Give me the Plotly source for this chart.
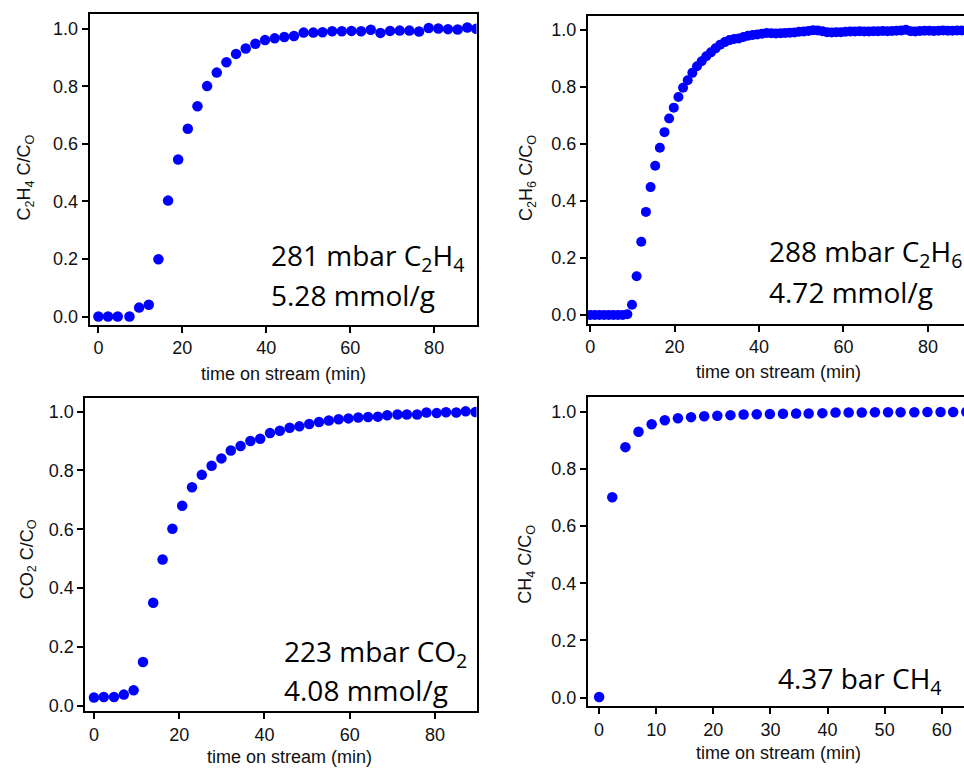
import plotly.graph_objects as go

W, H = 964, 772

# ---------------- data ----------------
t_c2h4 = [0, 2.3, 4.6, 7.4, 9.7, 12.0, 14.3, 16.6, 19.0, 21.3, 23.6, 25.9, 28.2, 30.5, 32.8, 35.1,
          37.4, 39.7, 42.0, 44.3, 46.6, 48.9, 51.2, 53.4, 55.7, 58.0, 60.3, 62.6, 64.9, 67.2, 69.5,
          71.8, 74.1, 76.4, 78.7, 81.0, 83.3, 85.6, 87.9, 90.0]
c_c2h4 = [0.0, 0.0, 0.0, 0.0, 0.031, 0.041, 0.199, 0.403, 0.546, 0.653, 0.731, 0.801, 0.848, 0.884,
          0.913, 0.932, 0.948, 0.961, 0.967, 0.972, 0.975, 0.987, 0.987, 0.988, 0.992, 0.992, 0.993,
          0.992, 0.997, 0.986, 0.993, 0.994, 0.994, 0.991, 1.003, 1.001, 0.999, 0.998, 1.005, 1.0]

t_c2h6 = [0.0, 1.1, 2.2, 3.3, 4.4, 5.5, 6.6, 7.7, 8.8, 9.9, 11.0, 12.1, 13.2, 14.3, 15.4, 16.5,
          17.6, 18.7, 19.8, 20.9, 22.0, 23.1, 24.2, 25.3, 26.4, 27.5, 28.6, 29.7, 30.8, 31.9, 33.0,
          34.1, 35.2, 36.3, 37.4, 38.5, 39.6, 40.7, 41.8, 42.9, 44.0, 45.1, 46.2, 47.3, 48.4, 49.5,
          50.6, 51.7, 52.8, 53.9, 55.0, 56.1, 57.2, 58.3, 59.4, 60.5, 61.6, 62.7, 63.8, 64.9, 66.0,
          67.1, 68.2, 69.3, 70.4, 71.5, 72.6, 73.7, 74.8, 75.9, 77.0, 78.1, 79.2, 80.3, 81.4, 82.5,
          83.6, 84.7, 85.8, 86.9, 88.0, 89.1]
c_c2h6 = [0.0, 0.0, 0.0, 0.0, 0.0, 0.0, 0.0, 0.0,
          0.003, 0.036, 0.136, 0.257, 0.362, 0.449, 0.524, 0.587, 0.642, 0.690,
          0.728, 0.765, 0.798, 0.824, 0.850, 0.873, 0.891, 0.908, 0.922, 0.936,
          0.949, 0.958, 0.965, 0.969, 0.971, 0.976, 0.980, 0.983, 0.985, 0.987,
          0.990, 0.989, 0.988, 0.989, 0.990, 0.991, 0.992, 0.994, 0.995, 0.997,
          1.000, 0.999, 0.996, 0.993, 0.992, 0.993, 0.993, 0.994, 0.995, 0.995,
          0.996, 0.995, 0.995, 0.996, 0.996, 0.997, 0.996, 0.997, 0.998, 0.999,
          1.001, 0.996, 0.995, 0.997, 0.998, 0.998, 0.997, 0.998, 0.999, 0.998,
          0.998, 0.999, 0.999, 0.999]

t_co2 = [0, 2.3, 4.7, 7.0, 9.3, 11.5, 13.9, 16.1, 18.4, 20.7, 23.0, 25.3, 27.6, 29.9, 32.1, 34.4,
         36.7, 39.0, 41.3, 43.6, 45.9, 48.2, 50.5, 52.8, 55.1, 57.4, 59.7, 62.0, 64.3, 66.6, 68.8,
         71.2, 73.4, 75.8, 78.0, 80.4, 82.6, 85.0, 87.2, 89.5]
c_co2 = [0.028, 0.030, 0.030, 0.038, 0.053, 0.149, 0.350, 0.497, 0.602, 0.680, 0.743, 0.785, 0.816,
         0.841, 0.868, 0.883, 0.900, 0.908, 0.927, 0.935, 0.945, 0.950, 0.958, 0.965, 0.970, 0.974,
         0.977, 0.980, 0.982, 0.983, 0.988, 0.990, 0.990, 0.990, 0.997, 0.995, 0.998, 0.997, 1.001,
         0.999]

t_ch4 = [0, 2.3, 4.6, 6.9, 9.2, 11.5, 13.8, 16.1, 18.4, 20.7, 23.0, 25.3, 27.6, 29.9, 32.2, 34.5,
         36.7, 39.1, 41.4, 43.7, 46.0, 48.3, 50.6, 52.8, 55.2, 57.5, 59.8, 62.0, 64.3]
c_ch4 = [0.002, 0.701, 0.876, 0.930, 0.956, 0.970, 0.977, 0.981, 0.984, 0.986, 0.988, 0.990, 0.991,
         0.992, 0.993, 0.994, 0.994, 0.995, 0.997, 0.997, 0.997, 0.998, 0.998, 0.998, 0.998, 0.999,
         0.999, 0.999, 0.999]

y_titles = ["C<sub>2</sub>H<sub>4</sub> C/C<sub>O</sub>", "C<sub>2</sub>H<sub>6</sub> C/C<sub>O</sub>",
            "CO<sub>2</sub> C/C<sub>O</sub>", "CH<sub>4</sub> C/C<sub>O</sub>"]
x_title = "time on stream (min)"
labels = [["281 mbar C<sub>2</sub>H<sub>4</sub>", "5.28 mmol/g"],
          ["288 mbar C<sub>2</sub>H<sub>6</sub>", "4.72 mmol/g"],
          ["223 mbar CO<sub>2</sub>", "4.08 mmol/g"],
          ["4.37 bar CH<sub>4</sub>"]]
y_ticks = [0.0, 0.2, 0.4, 0.6, 0.8, 1.0]

# ---------------- layout helpers (pixel geometry) ----------------
def px_x(p):
    return p / W

def px_y(p):
    return 1 - p / H

panels = [
    dict(t=t_c2h4, c=c_c2h4, xd=[87, 475], yd=[14, 327], xr=[-2.07, 90.1], yr=[-0.029, 1.052],
         dtick=20, right=True, msize=10.5),
    dict(t=t_c2h6, c=c_c2h6, xd=[586.7, 964], yd=[15.7, 325.7], xr=[-0.55, 88.55], yr=[-0.030, 1.051],
         dtick=20, right=False, msize=10),
    dict(t=t_co2, c=c_co2, xd=[82.7, 475], yd=[400.7, 716], xr=[-2.0, 89.75], yr=[-0.019, 1.046],
         dtick=20, right=True, msize=10.5),
    dict(t=t_ch4, c=c_ch4, xd=[586.7, 964], yd=[400, 711], xr=[-1.97, 63.9], yr=[-0.031, 1.050],
         dtick=10, right=False, msize=10.5),
]

tick_font = dict(family="Liberation Sans, Arial, sans-serif", size=18, color="#111111")
ann_font = dict(family="Open Sans, sans-serif", size=28, color="black")

fig = go.Figure()
layout = dict(width=W, height=H, margin=dict(l=0, r=0, t=0, b=0), showlegend=False,
              paper_bgcolor="white", plot_bgcolor="white")
annotations = []

for i, p in enumerate(panels):
    n = "" if i == 0 else str(i + 1)
    fig.add_trace(go.Scatter(x=p["t"], y=p["c"], mode="markers", xaxis="x" + n, yaxis="y" + n,
                             marker=dict(color="#0000FF", size=p["msize"], line=dict(width=0))))
    layout["xaxis" + n] = dict(domain=[px_x(p["xd"][0]), px_x(p["xd"][1])], range=p["xr"],
                               anchor="y" + n, showline=True, linecolor="black", linewidth=2,
                               mirror=True, ticks="outside", ticklen=6, tickwidth=2,
                               tickcolor="black", dtick=p["dtick"], tick0=0, showgrid=False,
                               zeroline=False, tickfont=tick_font)
    layout["yaxis" + n] = dict(domain=[px_y(p["yd"][1]), px_y(p["yd"][0])], range=p["yr"],
                               anchor="x" + n, showline=True, linecolor="black", linewidth=2,
                               mirror=p["right"], ticks="outside", ticklen=6, tickwidth=2,
                               tickcolor="black", tickvals=y_ticks, tickformat=".1f",
                               showgrid=False, zeroline=False, tickfont=tick_font)

# axis titles as annotations (pixel positions)
ytitle_pos = [(22.7, 179), (526.7, 179), (25, 563), (525, 568)]
xtitle_pos = [(281, 376), (778, 374), (287, 761.7), (778, 758)]
for i in range(4):
    annotations.append(dict(text=y_titles[i], x=px_x(ytitle_pos[i][0]), y=px_y(ytitle_pos[i][1]),
                            xref="paper", yref="paper", showarrow=False, textangle=-90,
                            xanchor="center", yanchor="middle", font=tick_font))
    annotations.append(dict(text=x_title, x=px_x(xtitle_pos[i][0]), y=px_y(xtitle_pos[i][1]),
                            xref="paper", yref="paper", showarrow=False,
                            xanchor="center", yanchor="middle", font=tick_font))

# in-plot labels
label_pos = [[(267, 259), (267, 297)], [(766, 255), (766, 294)],
             [(279.7, 657), (279.7, 695)], [(775.7, 684)]]
for i in range(4):
    for j, txt in enumerate(labels[i]):
        x0, y0 = label_pos[i][j]
        annotations.append(dict(text=txt, x=px_x(x0), y=px_y(y0), xref="paper", yref="paper",
                                showarrow=False, xanchor="left", yanchor="middle", font=ann_font))

layout["annotations"] = annotations
fig.update_layout(**layout)
fig.write_html("out.html")
